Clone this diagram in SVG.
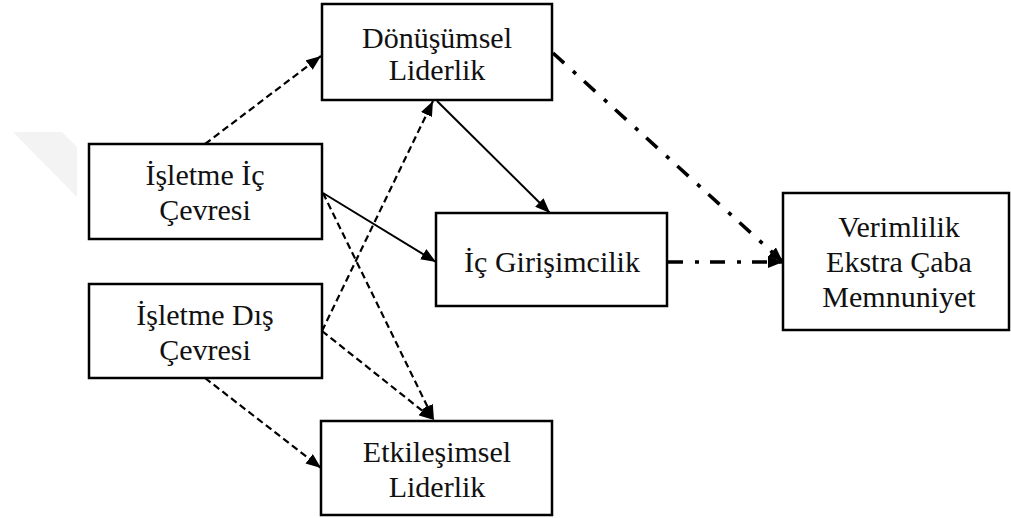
<svg xmlns="http://www.w3.org/2000/svg" width="1011" height="518" viewBox="0 0 1011 518">
  <style>
    .box { fill: #ffffff; stroke: #000000; stroke-width: 2.5; }
    .lbl { font-family: "Liberation Serif", "Times New Roman", serif; font-size: 30px; fill: #111111; text-anchor: middle; }
    .solid { fill: none; stroke: #000000; stroke-width: 2; }
    .dash { fill: none; stroke: #000000; stroke-width: 2.2; stroke-dasharray: 7 4; }
    .dashdot { fill: none; stroke: #000000; stroke-width: 3.6; stroke-dasharray: 15 12 4 11; }
  </style>
  <defs>
    <marker id="head" markerUnits="userSpaceOnUse" markerWidth="16" markerHeight="12" refX="15" refY="6" orient="auto">
      <path d="M0,0 L15,6 L0,12 z" fill="#000000"/>
    </marker>
  </defs>

  <rect width="1011" height="518" fill="#ffffff"/>
  <!-- faint background stripe at the left margin -->
  <polygon points="13,132 62,132 77,147 77,197" fill="#f3f3f3"/>

  <g id="connectors">
    <line class="dash" x1="205" y1="144" x2="321" y2="56" marker-end="url(#head)"/>
    <line class="solid" x1="437" y1="101" x2="550" y2="213" marker-end="url(#head)"/>
    <line class="solid" x1="323" y1="193" x2="436" y2="262" marker-end="url(#head)"/>
    <line class="dash" x1="323" y1="193" x2="434" y2="420" marker-end="url(#head)"/>
    <line class="dash" x1="322" y1="331" x2="433" y2="101" marker-end="url(#head)"/>
    <line class="dash" x1="322" y1="331" x2="434" y2="420" marker-end="url(#head)"/>
    <line class="dash" x1="205" y1="378" x2="321" y2="468" marker-end="url(#head)"/>
    <line class="dashdot" x1="553" y1="53" x2="783" y2="262" marker-end="url(#head)"/>
    <line class="dashdot" x1="668" y1="262" x2="783" y2="262" marker-end="url(#head)"/>
  </g>

  <g id="donusumsel">
    <rect class="box" x="322" y="4" width="230" height="96"/>
    <text class="lbl" x="437" y="48">Dönüşümsel</text>
    <text class="lbl" x="437" y="80">Liderlik</text>
  </g>

  <g id="isletme-ic">
    <rect class="box" x="89" y="144" width="233" height="95"/>
    <text class="lbl" x="205" y="185">İşletme İç</text>
    <text class="lbl" x="205" y="220">Çevresi</text>
  </g>

  <g id="ic-girisimcilik">
    <rect class="box" x="436" y="213" width="231" height="93"/>
    <text class="lbl" x="552" y="272">İç Girişimcilik</text>
  </g>

  <g id="isletme-dis">
    <rect class="box" x="89" y="284" width="233" height="94"/>
    <text class="lbl" x="205" y="325">İşletme Dış</text>
    <text class="lbl" x="205" y="360">Çevresi</text>
  </g>

  <g id="etkilesimsel">
    <rect class="box" x="321" y="421" width="231" height="94"/>
    <text class="lbl" x="437" y="462">Etkileşimsel</text>
    <text class="lbl" x="437" y="497">Liderlik</text>
  </g>

  <g id="sonuclar">
    <rect class="box" x="783" y="193" width="226" height="137"/>
    <text class="lbl" x="899" y="237">Verimlilik</text>
    <text class="lbl" x="899" y="272">Ekstra Çaba</text>
    <text class="lbl" x="899" y="307">Memnuniyet</text>
  </g>
</svg>
